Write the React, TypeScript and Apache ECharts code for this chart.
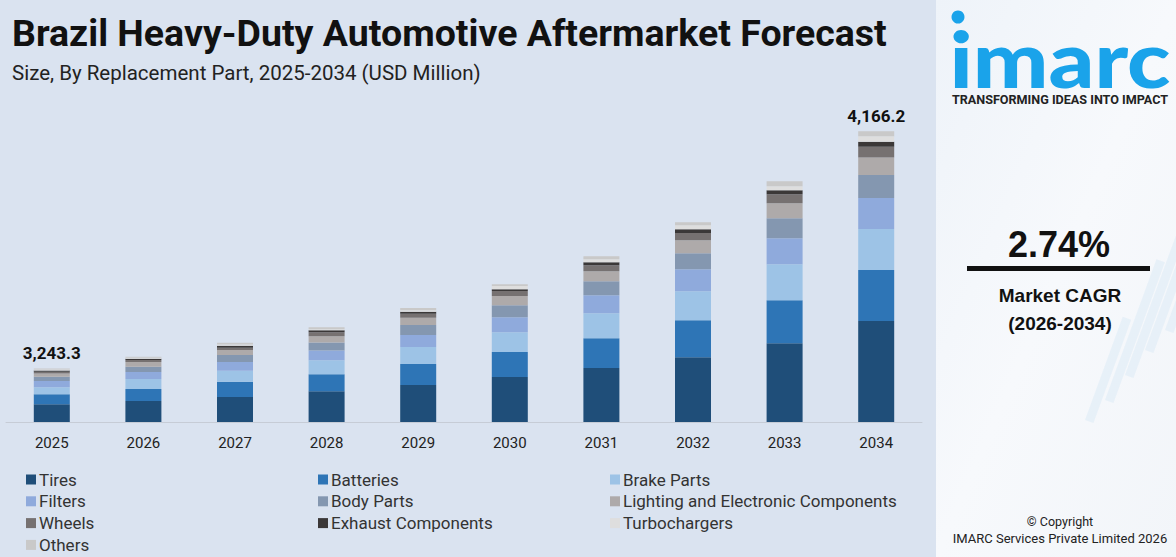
import React, { useEffect, useRef } from "react";
import * as echarts from "echarts";

const years = ["2025", "2026", "2027", "2028", "2029", "2030", "2031", "2032", "2033", "2034"];
const seriesNames = [
  "Tires",
  "Batteries",
  "Brake Parts",
  "Filters",
  "Body Parts",
  "Lighting and Electronic Components",
  "Wheels",
  "Exhaust Components",
  "Turbochargers",
  "Others",
];
const colors = [
  "#1f4e79",
  "#2e75b6",
  "#9dc3e6",
  "#8faadc",
  "#8497b0",
  "#aeaaaa",
  "#767171",
  "#3b3838",
  "#dedede",
  "#c9c9c9",
];
// Segment sizes as drawn (relative units)
const tires = [17.7, 21, 25, 30.7, 37, 45, 54, 64.7, 78.7, 101];
const batteries = [10, 12, 15.3, 17, 21, 25, 29.7, 37, 43, 51];
const brakeParts = [7, 10, 11, 14, 17, 19.7, 25, 29, 36, 41];
const filters = [6.3, 7, 8.7, 9.7, 12, 15, 18, 22, 26, 31];
const bodyParts = [4.3, 5.3, 7, 8, 10, 12, 14, 16, 20, 23];
const lighting = [3.3, 4.7, 5, 6.3, 7.3, 9.3, 10, 13, 15, 17.5];
const wheels = [1.7, 2, 2.3, 4, 4, 5, 6, 7.3, 9, 10.7];
const exhaust = [1.3, 1.3, 2, 2, 2, 1.7, 3, 3.7, 4, 5];
const turbochargers = [1, 1, 1.3, 1, 1.4, 3.3, 3, 4, 4, 5.5];
const others = [1, 1, 1.7, 2, 2.3, 1.7, 3, 3, 5, 5];
const totalLabels = ["3,243.3", "", "", "", "", "", "", "", "", "4,166.2"];

const seriesData = [tires, batteries, brakeParts, filters, bodyParts, lighting, wheels, exhaust, turbochargers, others];

const legendCols = [
  ["Tires", "Filters", "Wheels", "Others"],
  ["Batteries", "Body Parts", "Exhaust Components"],
  ["Brake Parts", "Lighting and Electronic Components", "Turbochargers"],
];
const legendLefts = [21, 313, 605];

export default function App() {
  const ref = useRef<HTMLDivElement>(null);
  useEffect(() => {
    document.body.style.margin = "0";
    const chart = echarts.init(ref.current!, null, { renderer: "svg" });
    const font = "Roboto, 'Noto Sans', sans-serif";
    const wide = "'Liberation Sans', Arial, sans-serif";
    const series: any[] = seriesNames.map((name, i) => ({
      name,
      type: "bar",
      stack: "total",
      barWidth: 36,
      data: seriesData[i],
      itemStyle: { color: colors[i] },
      label:
        i === seriesNames.length - 1
          ? {
              show: true,
              position: "top",
              distance: 7,
              formatter: (p: any) => totalLabels[p.dataIndex],
              fontFamily: font,
              fontWeight: "bold",
              fontSize: 17,
              color: "#111",
            }
          : { show: false },
    }));

    const deco: any[] = [];
    const decoBars = [
      [1085, 420, 9, 110],
      [1105, 400, 9, 150],
      [1125, 375, 9, 190],
      [1145, 350, 9, 230],
      [1165, 330, 9, 260],
    ];
    decoBars.forEach((b) =>
      deco.push({
        type: "rect",
        x: b[0],
        y: b[1],
        rotation: -0.35,
        shape: { x: 0, y: -b[3], width: b[2], height: b[3] },
        style: { fill: "rgba(170,210,238,0.18)" },
        silent: true,
      })
    );

    chart.setOption({
      animation: false,
      backgroundColor: "#dae3f0",
      grid: { left: 6, right: 254, top: 122, bottom: 135, containLabel: false },
      xAxis: {
        type: "category",
        data: years,
        axisLine: { show: true, lineStyle: { color: "#c6ccd6", width: 1 } },
        axisTick: { show: false },
        axisLabel: { color: "#222", fontSize: 15, fontFamily: font, margin: 13 },
      },
      yAxis: { type: "value", min: 0, max: 300, show: false, splitLine: { show: false } },
      legend: legendCols.map((col, ci) => ({
        data: col,
        orient: "vertical",
        left: legendLefts[ci],
        top: 466,
        height: 100,
        itemWidth: 10,
        itemHeight: 10,
        itemGap: 4.8,
        icon: "rect",
        selectedMode: false,
        textStyle: {
          fontFamily: font,
          fontSize: 17,
          lineHeight: 16,
          color: "#333",
          padding: [0, 0, 0, -2],
        },
      })),
      graphic: [
        {
          type: "rect",
          shape: { x: 936, y: 0, width: 240, height: 557 },
          style: {
            fill: new echarts.graphic.LinearGradient(0, 0, 1, 1, [
              { offset: 0, color: "#eef3f9" },
              { offset: 0.5, color: "#f7f9fc" },
              { offset: 1, color: "#f2f5f9" },
            ]),
          },
          silent: true,
        },
        ...deco,
        {
          type: "text",
          left: 12,
          top: 14,
          style: {
            text: "Brazil Heavy-Duty Automotive Aftermarket Forecast",
            font: `bold 37.5px ${font}`,
            fill: "#111",
          },
        },
        {
          type: "text",
          left: 12,
          top: 62,
          style: {
            text: "Size, By Replacement Part, 2025-2034 (USD Million)",
            font: `20.5px ${font}`,
            fill: "#222",
          },
        },
        {
          type: "circle",
          shape: { cx: 958, cy: 17, r: 6.5 },
          style: { fill: "#1aa3ea" },
        },
        {
          type: "text",
          x: 1060,
          y: 58,
          scaleX: 1.15,
          style: {
            text: "imarc",
            font: `900 78px Lato, 'Noto Sans', sans-serif`,
            lineHeight: 56,
            fill: "#1aa3ea",
            align: "center",
            verticalAlign: "middle",
          },
        },
        {
          type: "text",
          x: 1060,
          y: 99,
          style: {
            text: "TRANSFORMING IDEAS INTO IMPACT",
            font: `bold 12.6px ${font}`,
            fill: "#222",
            align: "center",
            verticalAlign: "middle",
          },
        },
        {
          type: "text",
          x: 1059,
          y: 244,
          style: {
            text: "2.74%",
            font: `bold 36px ${wide}`,
            fill: "#111",
            align: "center",
            verticalAlign: "middle",
          },
        },
        {
          type: "rect",
          shape: { x: 967, y: 266, width: 183, height: 5 },
          style: { fill: "#111" },
        },
        {
          type: "text",
          x: 1060,
          y: 295,
          style: {
            text: "Market CAGR",
            font: `bold 19px ${wide}`,
            fill: "#111",
            align: "center",
            verticalAlign: "middle",
          },
        },
        {
          type: "text",
          x: 1060,
          y: 323,
          style: {
            text: "(2026-2034)",
            font: `bold 19px ${wide}`,
            fill: "#111",
            align: "center",
            verticalAlign: "middle",
          },
        },
        {
          type: "text",
          x: 1060,
          y: 521,
          style: {
            text: "© Copyright",
            font: `12.5px ${font}`,
            fill: "#222",
            align: "center",
            verticalAlign: "middle",
          },
        },
        {
          type: "text",
          x: 1060,
          y: 538,
          style: {
            text: "IMARC Services Private Limited 2026",
            font: `13px ${font}`,
            fill: "#222",
            align: "center",
            verticalAlign: "middle",
          },
        },
      ],
      series,
    });
    return () => chart.dispose();
  }, []);
  return <div ref={ref} style={{ width: 1176, height: 557 }} />;
}
